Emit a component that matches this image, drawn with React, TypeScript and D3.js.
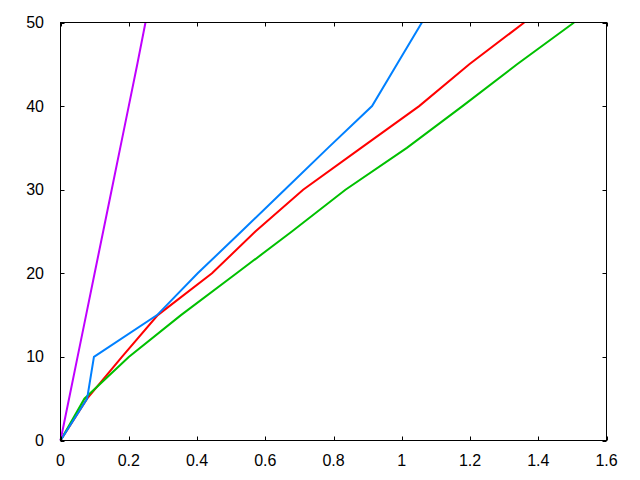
import React from "react";
import * as d3 from "d3";

const yValues = [0, 5, 10, 15, 20, 25, 30, 35, 40, 45, 50];
const redX = [0, 0.078, 0.18, 0.285, 0.444, 0.571, 0.711, 0.881, 1.051, 1.198, 1.359];
const greenX = [0, 0.07, 0.2, 0.353, 0.516, 0.678, 0.835, 1.015, 1.178, 1.338, 1.505];
const blueX = [0, 0.078, 0.098, 0.283, 0.402, 0.53, 0.657, 0.784, 0.913, 0.986, 1.059];
const purpleX = [0, 0.025, 0.05, 0.075, 0.1, 0.125, 0.15, 0.175, 0.2, 0.225, 0.249];

const xTicks = [0, 0.2, 0.4, 0.6, 0.8, 1, 1.2, 1.4, 1.6];
const yTicks = [0, 10, 20, 30, 40, 50];

const seriesList = [
  { name: "red", xs: redX, color: "#ff0000" },
  { name: "green", xs: greenX, color: "#00c000" },
  { name: "blue", xs: blueX, color: "#0080ff" },
  { name: "purple", xs: purpleX, color: "#c000ff" },
];

const W = 640;
const H = 480;
const left = 60.5;
const right = 606.5;
const top = 22.5;
const bottom = 440.5;
const tickLen = 4;

export default function App() {
  const x = d3.scaleLinear().domain([0, 1.6]).range([left, right]);
  const y = d3.scaleLinear().domain([0, 50]).range([bottom, top]);
  const line = d3
    .line<[number, number]>()
    .x((d) => x(d[0]))
    .y((d) => y(d[1]));

  const font = { fontFamily: "Liberation Sans, Arial, sans-serif", fontSize: 16 };

  return (
    <svg
      width={W}
      height={H}
      style={{ position: "absolute", left: 0, top: 0, background: "#fff" }}
    >
      <rect x={0} y={0} width={W} height={H} fill="#fff" />
      {seriesList.map((s) => (
        <path
          key={s.name}
          d={line(s.xs.map((v, i) => [v, yValues[i]] as [number, number])) || ""}
          fill="none"
          stroke={s.color}
          strokeWidth={2}
          strokeLinejoin="miter"
        />
      ))}
      <g stroke="#000" strokeWidth={1}>
        {xTicks.map((t) => (
          <g key={"xt" + t}>
            <line x1={Math.round(x(t)) + 0.5} x2={Math.round(x(t)) + 0.5} y1={bottom} y2={bottom - tickLen} />
            <line x1={Math.round(x(t)) + 0.5} x2={Math.round(x(t)) + 0.5} y1={top} y2={top + tickLen} />
          </g>
        ))}
        {yTicks.map((t) => (
          <g key={"yt" + t}>
            <line x1={left} x2={left + tickLen} y1={Math.round(y(t)) + 0.5} y2={Math.round(y(t)) + 0.5} />
            <line x1={right} x2={right - tickLen} y1={Math.round(y(t)) + 0.5} y2={Math.round(y(t)) + 0.5} />
          </g>
        ))}
        <rect x={left} y={top} width={right - left} height={bottom - top} fill="none" />
      </g>
      <g {...font} fill="#000">
        {xTicks.map((t) => (
          <text key={"xl" + t} x={x(t)} y={466} textAnchor="middle">
            {d3.format("~g")(t)}
          </text>
        ))}
        {yTicks.map((t) => (
          <text key={"yl" + t} x={44} y={y(t) + 5.5} textAnchor="end">
            {t}
          </text>
        ))}
      </g>
    </svg>
  );
}
